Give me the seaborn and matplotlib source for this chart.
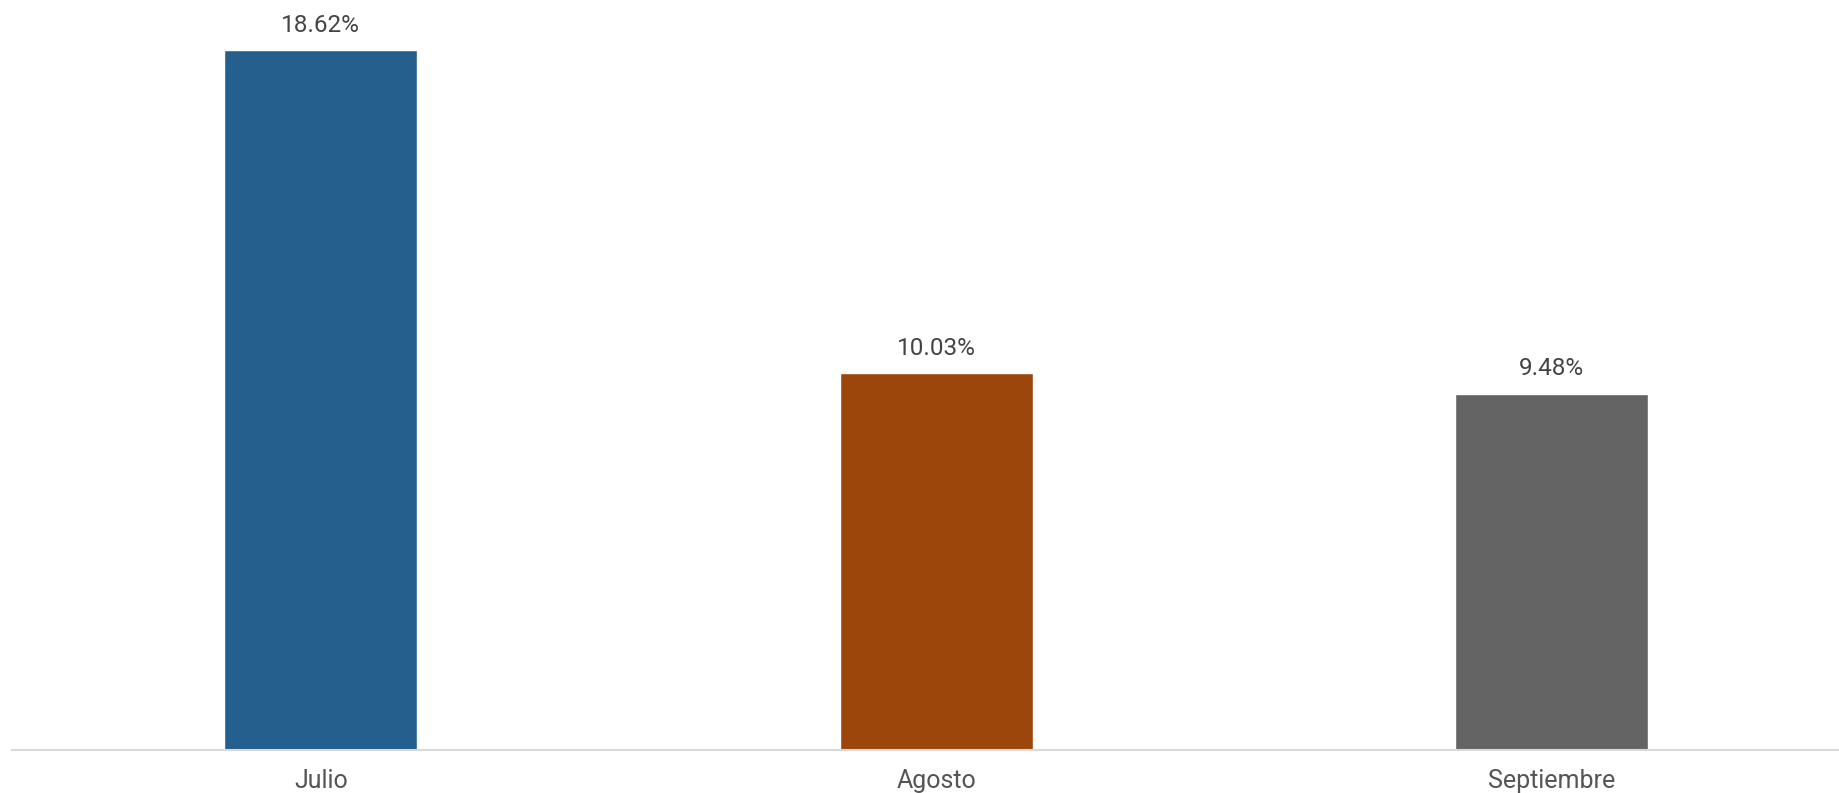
import matplotlib
matplotlib.use("Agg")
import matplotlib.pyplot as plt
import seaborn as sns
import pandas as pd

months = ["Julio", "Agosto", "Septiembre"]
values = [18.62, 10.03, 9.48]
labels = ["18.62%", "10.03%", "9.48%"]
colors = ["#255F8E", "#9C460C", "#646464"]

sns.set_theme(style="white")
plt.rcParams['font.family'] = ['Roboto', 'DejaVu Sans']

df = pd.DataFrame({"mes": months, "valor": values})

fig = plt.figure(figsize=(18.4, 7.93), dpi=100)
ax = fig.add_axes([12/1840, 43/793, 1 - 12/1840, 750/793])
sns.barplot(data=df, x="mes", y="valor", hue="mes", palette=colors, width=0.3136,
            legend=False, ax=ax, saturation=1)
ax.set_xlim(-0.502, 2.469)
ax.set_ylim(0, 19.95)
for s in ["top", "right", "left"]:
    ax.spines[s].set_visible(False)
ax.spines["bottom"].set_color("#d9d9d9")
ax.spines["bottom"].set_linewidth(1.5)
ax.set_yticks([])
ax.set_xlabel("")
ax.set_ylabel("")
ax.tick_params(axis="x", length=0, pad=14, labelsize=18, labelcolor="#555555")
for i, (v, t) in enumerate(zip(values, labels)):
    ax.annotate(t, (i, v), xytext=(0, 9.5), textcoords="offset points",
                ha="center", va="bottom", fontsize=17.5, color="#444444")
fig.savefig("out.png", dpi=100)
